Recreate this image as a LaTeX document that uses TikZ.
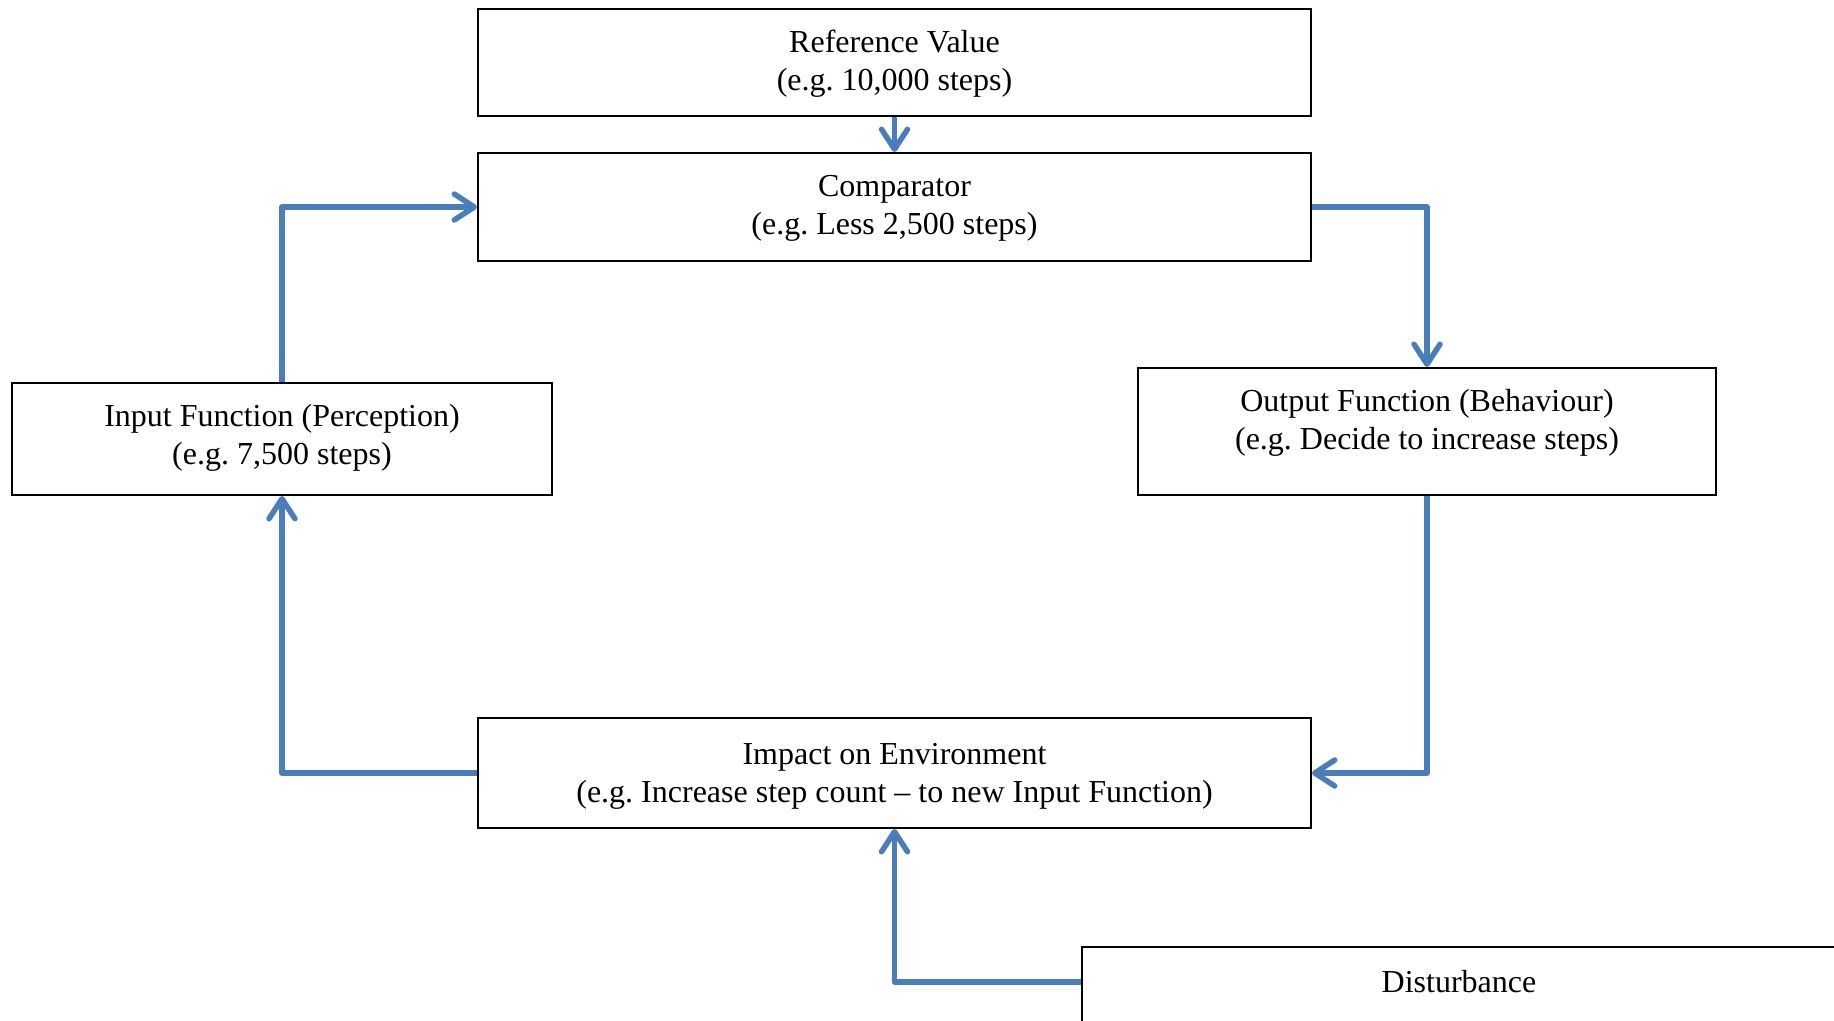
\documentclass[tikz,border=0pt]{standalone}
\usepackage{fontspec}
\setmainfont{Liberation Serif}
\usetikzlibrary{arrows.meta,calc}
\definecolor{flow}{RGB}{74,126,187}
\begin{document}
\frenchspacing
\begin{tikzpicture}[x=0.5pt,y=-0.5pt,
  box/.style={draw=black, line width=1pt, fill=white, inner sep=0pt},
  txt/.style={inner sep=0pt, align=center, font=\fontsize{16}{19}\selectfont},
  flowline/.style={draw=flow, line width=2.75pt, line join=round, line cap=butt,
    -{Straight Barb[length=10pt,width=13pt,line cap=round,line join=round]}}]
\useasboundingbox (0,0) rectangle (1834,1021);
% boxes
\node[box, minimum width=416.5pt, minimum height=53.5pt] (ref) at (894.5,62.5) {};
\node[txt] (reftxt) at (894.5,63.5) {Reference Value\\(e.g. 10,000 steps)};
\node[box, minimum width=416.5pt, minimum height=54pt] (comp) at (894.5,207) {};
\node[txt] (comptxt) at (894.5,208.5) {Comparator\\(e.g. Less 2,500 steps)};
\node[box, minimum width=270pt, minimum height=56pt] (inp) at (282,439) {};
\node[txt] (inptxt) at (282,437.5) {Input Function (Perception)\\(e.g. 7,500 steps)};
\node[box, minimum width=289pt, minimum height=63.5pt] (outp) at (1427,431.5) {};
\node[txt] (outtxt) at (1427,422.5) {Output Function (Behaviour)\\(e.g. Decide to increase steps)};
\node[box, minimum width=416.5pt, minimum height=55pt] (imp) at (894.5,773) {};
\node[txt] (imptxt) at (894.5,776) {Impact on Environment\\(e.g. Increase step count -- to new Input Function)};
\node[box, minimum width=377pt, minimum height=100pt] (dist) at (1459,1047) {};
\node[txt] (disttxt) at (1459,982) {Disturbance};
% connectors
\draw[flowline] (ref.south) -- (comp.north);
\draw[flowline] (comp.east) -| (outp.north);
\draw[flowline] (outp.south) |- (imp.east);
\draw[flowline] (imp.west) -| (inp.south);
\draw[flowline] (inp.north) |- (comp.west);
\draw[flowline] ($(dist.north west)+(0,36)$) -| (imp.south);
\end{tikzpicture}
\end{document}
